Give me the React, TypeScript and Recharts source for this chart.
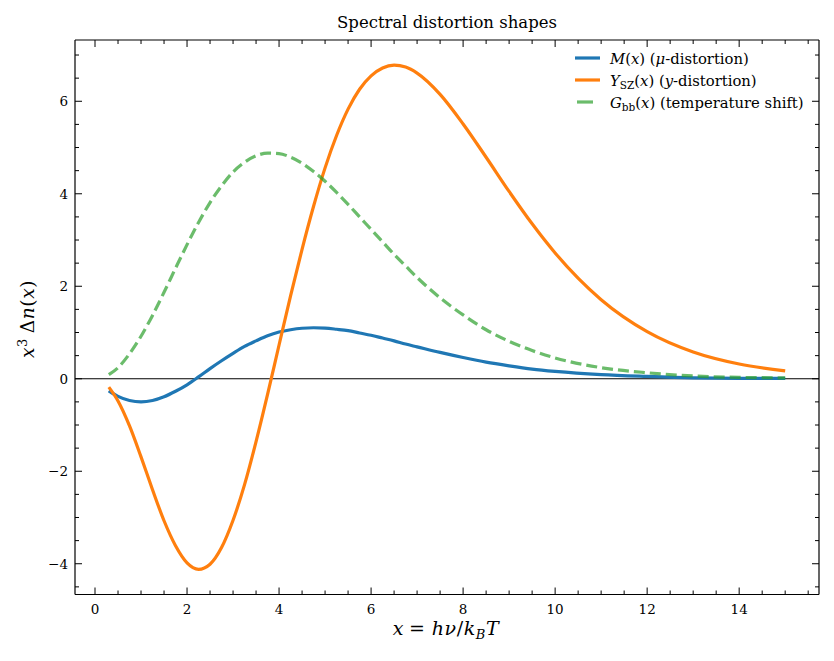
import { LineChart, Line, XAxis, YAxis, ReferenceLine, Legend } from 'recharts';

// sample points in x = h nu / k_B T
const xGrid = [
  0.3, 0.5, 0.75, 1, 1.25, 1.5, 1.75, 2, 2.25, 2.5, 2.75, 3, 3.25, 3.5, 3.75, 4,
  4.25, 4.5, 4.75, 5, 5.25, 5.5, 5.75, 6, 6.25, 6.5, 6.75, 7, 7.5, 8, 8.5, 9, 9.5, 10,
  11, 12, 13, 14, 15,
];

// x^3 * shape for each distortion
const muCurve = [
  -0.26, -0.38, -0.47, -0.5, -0.47, -0.39, -0.27, -0.13, 0.04, 0.22, 0.39, 0.55, 0.7, 0.82, 0.93, 1.01,
  1.06, 1.092, 1.103, 1.095, 1.07, 1.04, 0.99, 0.94, 0.88, 0.82, 0.75, 0.69, 0.57, 0.46, 0.36, 0.28, 0.21, 0.16,
  0.09, 0.05, 0.02, 0.01, 0.01,
];
const yszCurve = [
  -0.18, -0.48, -1.02, -1.69, -2.4, -3.07, -3.61, -3.98, -4.12, -4.01, -3.65, -3.06, -2.29, -1.36, -0.34, 0.73,
  1.79, 2.8, 3.73, 4.56, 5.26, 5.83, 6.26, 6.55, 6.72, 6.78, 6.74, 6.61, 6.15, 5.51, 4.79, 4.05, 3.35, 2.72,
  1.71, 1.02, 0.58, 0.32, 0.17,
];
const gbbCurve = [
  0.09, 0.24, 0.54, 0.92, 1.37, 1.87, 2.39, 2.9, 3.38, 3.81, 4.17, 4.47, 4.68, 4.82, 4.88, 4.87,
  4.79, 4.66, 4.48, 4.27, 4.03, 3.77, 3.5, 3.23, 2.96, 2.69, 2.44, 2.19, 1.75, 1.38, 1.06, 0.81, 0.61, 0.45,
  0.24, 0.13, 0.06, 0.03, 0.02,
];

// every 0.5 gets a minor tick, even numbers get a labelled major tick
const xTicks = [
  0, 0.5, 1, 1.5, 2, 2.5, 3, 3.5, 4, 4.5, 5, 5.5, 6, 6.5, 7, 7.5,
  8, 8.5, 9, 9.5, 10, 10.5, 11, 11.5, 12, 12.5, 13, 13.5, 14, 14.5, 15, 15.5,
];
const yTicks = [
  -4.5, -4, -3.5, -3, -2.5, -2, -1.5, -1, -0.5, 0, 0.5, 1, 1.5, 2, 2.5, 3,
  3.5, 4, 4.5, 5, 5.5, 6, 6.5, 7,
];
const xRange: [number, number] = [-0.435, 15.735];
const yRange: [number, number] = [-4.665, 7.325];

const data = xGrid.map((x, i) => ({ x, mu: muCurve[i], ysz: yszCurve[i], gbb: gbbCurve[i] }));

const FONT = '"DejaVu Serif", serif';
const W = 834;
const H = 661;

const fmt = (v: number) => (v < 0 ? '\u2212' + Math.abs(v) : String(v));
const isMajor = (v: number) => v % 2 === 0;

type TickProps = { x: number; y: number; payload: { value: number } };

const BottomTick = ({ x, y, payload }: TickProps) => {
  const major = isMajor(payload.value);
  return (
    <g>
      <line x1={x} y1={y} x2={x} y2={y - (major ? 7 : 4)} stroke="#000" strokeWidth={1} />
      {major && (
        <text x={x} y={y + 19.5} textAnchor="middle" fontFamily={FONT} fontSize={13.5} fill="#000">
          {fmt(payload.value)}
        </text>
      )}
    </g>
  );
};

const TopTick = ({ x, y, payload }: TickProps) => (
  <line x1={x} y1={y} x2={x} y2={y + (isMajor(payload.value) ? 7 : 4)} stroke="#000" strokeWidth={1} />
);

const LeftTick = ({ x, y, payload }: TickProps) => {
  const major = isMajor(payload.value);
  return (
    <g>
      <line x1={x} y1={y} x2={x + (major ? 7 : 4)} y2={y} stroke="#000" strokeWidth={1} />
      {major && (
        <text x={x - 7} y={y + 5} textAnchor="end" fontFamily={FONT} fontSize={13.5} fill="#000">
          {fmt(payload.value)}
        </text>
      )}
    </g>
  );
};

const RightTick = ({ x, y, payload }: TickProps) => (
  <line x1={x} y1={y} x2={x - (isMajor(payload.value) ? 7 : 4)} y2={y} stroke="#000" strokeWidth={1} />
);

const sub = { fontSize: 10.5, position: 'relative' as const, top: 3 };

const legendRows = [
  {
    key: 'mu',
    color: '#1f77b4',
    opacity: 1,
    label: (
      <>
        <i>M</i>(<i>x</i>) (<i>μ</i>-distortion)
      </>
    ),
  },
  {
    key: 'ysz',
    color: '#ff7f0e',
    opacity: 1,
    label: (
      <>
        <i>Y</i>
        <span style={sub}>SZ</span>(<i>x</i>) (<i>y</i>-distortion)
      </>
    ),
  },
  {
    key: 'gbb',
    color: '#2ca02c',
    opacity: 0.7,
    label: (
      <>
        <i>G</i>
        <span style={sub}>bb</span>(<i>x</i>) (temperature shift)
      </>
    ),
  },
];

const renderLegend = () => (
  <div style={{ fontFamily: FONT, fontSize: 14.8, color: '#000' }}>
    {legendRows.map((row) => (
      <div key={row.key} style={{ display: 'flex', alignItems: 'center', height: 22, whiteSpace: 'nowrap' }}>
        <svg width={35} height={22} style={{ flex: 'none' }}>
          <line
            x1={row.key === 'gbb' ? 2 : 0}
            x2={row.key === 'gbb' ? 18 : 25}
            y1={11}
            y2={11}
            stroke={row.color}
            strokeOpacity={row.opacity}
            strokeWidth={3.2}
          />
        </svg>
        <span>{row.label}</span>
      </div>
    ))}
  </div>
);

export default function App() {
  return (
    <div style={{ position: 'absolute', left: 0, top: 0, width: W, height: H, background: '#fff' }}>
      <LineChart width={W} height={H} data={data} margin={{ top: 39, right: 14, bottom: 65.5, left: 74 }}>
        <XAxis
          xAxisId="bottom"
          dataKey="x"
          type="number"
          domain={xRange}
          allowDataOverflow
          ticks={xTicks}
          interval={0}
          height={1}
          tickSize={0}
          tickMargin={0}
          tickLine={false}
          axisLine={{ stroke: '#000', strokeWidth: 1.2 }}
          tick={(p: any) => <BottomTick {...p} />}
        />
        <XAxis
          xAxisId="top"
          orientation="top"
          dataKey="x"
          type="number"
          domain={xRange}
          allowDataOverflow
          ticks={xTicks}
          interval={0}
          height={1}
          tickSize={0}
          tickMargin={0}
          tickLine={false}
          axisLine={{ stroke: '#000', strokeWidth: 1.2 }}
          tick={(p: any) => <TopTick {...p} />}
        />
        <YAxis
          yAxisId="left"
          type="number"
          domain={yRange}
          allowDataOverflow
          ticks={yTicks}
          interval={0}
          width={1}
          tickSize={0}
          tickMargin={0}
          tickLine={false}
          axisLine={{ stroke: '#000', strokeWidth: 1.2 }}
          tick={(p: any) => <LeftTick {...p} />}
        />
        <YAxis
          yAxisId="right"
          orientation="right"
          type="number"
          domain={yRange}
          allowDataOverflow
          ticks={yTicks}
          interval={0}
          width={1}
          tickSize={0}
          tickMargin={0}
          tickLine={false}
          axisLine={{ stroke: '#000', strokeWidth: 1.2 }}
          tick={(p: any) => <RightTick {...p} />}
        />
        <ReferenceLine xAxisId="bottom" yAxisId="left" y={0} stroke="#000" strokeWidth={1} />
        <Line
          xAxisId="bottom"
          yAxisId="left"
          type="monotone"
          dataKey="mu"
          name="M(x) (μ-distortion)"
          stroke="#1f77b4"
          strokeWidth={3.2}
          dot={false}
          isAnimationActive={false}
        />
        <Line
          xAxisId="bottom"
          yAxisId="left"
          type="monotone"
          dataKey="ysz"
          name="Y_SZ(x) (y-distortion)"
          stroke="#ff7f0e"
          strokeWidth={3.2}
          dot={false}
          isAnimationActive={false}
        />
        <Line
          xAxisId="bottom"
          yAxisId="left"
          type="monotone"
          dataKey="gbb"
          name="G_bb(x) (temperature shift)"
          stroke="#2ca02c"
          strokeOpacity={0.7}
          strokeWidth={3.2}
          strokeDasharray="11 5"
          dot={false}
          isAnimationActive={false}
        />
        <Legend
          layout="horizontal"
          verticalAlign="middle"
          align="center"
          content={renderLegend}
          wrapperStyle={{ top: 47, left: 575, width: 255, height: 66 }}
        />
      </LineChart>
      <svg
        width={W}
        height={H}
        style={{ position: 'absolute', left: 0, top: 0, pointerEvents: 'none' }}
        fontFamily={FONT}
        fill="#000"
      >
        <text x={447} y={27.5} textAnchor="middle" fontSize={16.5}>
          Spectral distortion shapes
        </text>
        <text x={446} y={635} textAnchor="middle" fontSize={19} letterSpacing={0.6}>
          <tspan fontStyle="italic">x</tspan>
          <tspan dx={5}>=</tspan>
          <tspan fontStyle="italic" dx={6}>hν</tspan>
          <tspan>/</tspan>
          <tspan fontStyle="italic">k</tspan>
          <tspan fontStyle="italic" fontSize={13} dy={4}>B</tspan>
          <tspan fontStyle="italic" dy={-4}>T</tspan>
        </text>
        <text x={34} y={319} textAnchor="middle" fontSize={18.5} letterSpacing={0.6} transform="rotate(-90 34 319)">
          <tspan fontStyle="italic">x</tspan>
          <tspan fontSize={13} dy={-7}>3</tspan>
          <tspan dy={7} dx={5}>Δ</tspan>
          <tspan fontStyle="italic">n</tspan>
          <tspan>(</tspan>
          <tspan fontStyle="italic">x</tspan>
          <tspan>)</tspan>
        </text>
      </svg>
    </div>
  );
}
